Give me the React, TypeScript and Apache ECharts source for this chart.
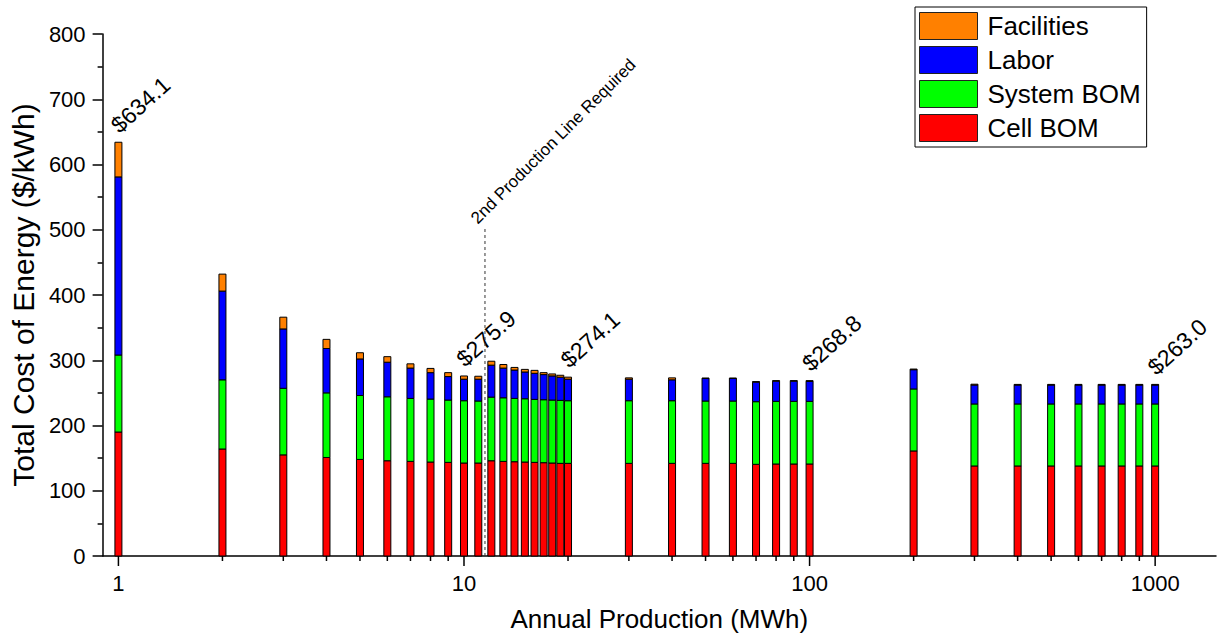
import React, { useEffect, useRef } from "react";
import * as echarts from "echarts";

// ---------- data ----------
const production = [1, 2, 3, 4, 5, 6, 7, 8, 9, 10, 11, 12, 13, 14, 15, 16, 17, 18, 19, 20, 30, 40, 50, 60, 70, 80, 90, 100, 200, 300, 400, 500, 600, 700, 800, 900, 1000];
const cellBOM = [190, 164, 155, 151, 148, 146, 145, 144, 143.5, 142.5, 142.5, 146, 145, 144.5, 144, 143.5, 143, 142.5, 142, 142, 142, 142, 142, 142, 140.5, 141, 141, 141, 161, 138, 138, 138, 138, 138, 138, 138, 138];
const systemBOM = [118, 106, 102, 99, 98, 98, 96.5, 96.5, 95.5, 95.5, 95, 97.5, 97.5, 97, 97, 96.5, 96.5, 96.5, 96.5, 96, 96, 96, 95.5, 95.5, 96, 96, 96, 96, 95, 95, 95, 95, 95, 95, 95, 95, 95];
const labor = [273, 136, 91, 68, 56, 53, 46.5, 40.5, 36, 33, 33.5, 49, 45.5, 43.5, 41, 40, 38.5, 37, 35.5, 33, 33, 32, 34.5, 34.5, 30, 31, 31, 30.5, 29.5, 29, 29, 29, 29, 29, 29, 29, 29];
const facilities = [53.1, 26, 18, 14, 9.5, 8.5, 6.5, 6.5, 6, 4.9, 4.5, 6, 5.5, 4, 4, 4.5, 3, 3, 3, 3.1, 2, 3, 0.8, 0.8, 0.8, 0.8, 0.8, 1.3, 1, 1.3, 1, 1, 1, 1, 1, 1, 1];

const seriesNames = ["Cell BOM", "System BOM", "Labor", "Facilities"];
const legendOrder = ["Facilities", "Labor", "System BOM", "Cell BOM"];

const labelProduction = [1, 10, 20, 100, 1000];
const labelTexts = ["$634.1", "$275.9", "$274.1", "$268.8", "$263.0"];

const secondLineAt = 11.5;
const secondLineTop = 503;
const secondLineText = "2nd Production Line Required";

const majorTicks = [1, 10, 100, 1000];
const minorTicks = [2, 3, 4, 5, 6, 7, 8, 9, 20, 30, 40, 50, 60, 70, 80, 90, 200, 300, 400, 500, 600, 700, 800, 900];

const xTitle = "Annual Production (MWh)";
const yTitle = "Total Cost of Energy ($/kWh)";

// ---------- styles ----------
const COLORS: Record<string, string> = {
  "Cell BOM": "#ff0000",
  "System BOM": "#00ff00",
  Labor: "#0000ff",
  Facilities: "#ff8000",
};
const FONT = "Liberation Sans, Arial, sans-serif";
const BAR_W = 7;

export default function App() {
  const ref = useRef<HTMLDivElement>(null);

  useEffect(() => {
    if (!ref.current) return;
    const chart = echarts.init(ref.current, undefined, { renderer: "svg" });

    const comps = [cellBOM, systemBOM, labor, facilities];
    const stacked: number[][][] = comps.map(() => []);
    production.forEach((x, i) => {
      let base = 0;
      comps.forEach((arr, k) => {
        const top = base + arr[i];
        stacked[k].push([x, base, top]);
        base = top;
      });
    });
    const totals = production.map((_, i) => comps.reduce((s, a) => s + a[i], 0));

    const barRender = (color: string) => (params: any, api: any) => {
      const x = api.value(0);
      const p0 = api.coord([x, api.value(1)]);
      const p1 = api.coord([x, api.value(2)]);
      return {
        type: "rect",
        shape: { x: p0[0] - BAR_W / 2, y: p1[1], width: BAR_W, height: Math.max(p0[1] - p1[1], 0) },
        style: { fill: color, stroke: "#000", lineWidth: 1 },
      };
    };

    const barSeries = seriesNames.map((name, k) => ({
      type: "custom",
      name,
      coordinateSystem: "cartesian2d",
      itemStyle: { color: COLORS[name], borderColor: "#222", borderWidth: 1 },
      encode: { x: 0, y: [1, 2] },
      data: stacked[k],
      renderItem: barRender(COLORS[name]),
      silent: true,
    }));

    const labelSeries = {
      type: "custom",
      name: "totals",
      coordinateSystem: "cartesian2d",
      encode: { x: 0, y: 1 },
      data: labelProduction.map((x) => [x, totals[production.indexOf(x)]]),
      renderItem: (params: any, api: any) => {
        const p = api.coord([api.value(0), api.value(1)]);
        return {
          type: "text",
          x: p[0] - 4,
          y: p[1] - 14,
          rotation: (42 * Math.PI) / 180,
          style: {
            text: labelTexts[params.dataIndex],
            fontSize: 23,
            fontFamily: FONT,
            fill: "#000",
            align: "left",
            verticalAlign: "middle",
          },
        };
      },
      silent: true,
    };

    const lineSeries = {
      type: "custom",
      name: "secondLine",
      coordinateSystem: "cartesian2d",
      encode: { x: 0, y: 1 },
      data: [[secondLineAt, secondLineTop]],
      renderItem: (params: any, api: any) => {
        const x = api.value(0);
        const pTop = api.coord([x, api.value(1)]);
        const pBot = api.coord([x, 0]);
        return {
          type: "group",
          children: [
            {
              type: "line",
              shape: { x1: pBot[0], y1: pBot[1], x2: pTop[0], y2: pTop[1] },
              style: { stroke: "#333", lineWidth: 1, lineDash: [3, 3] },
            },
            {
              type: "text",
              x: pTop[0] - 5,
              y: pTop[1] - 1,
              rotation: Math.PI / 4,
              style: {
                text: secondLineText,
                fontSize: 17,
                fontFamily: FONT,
                fill: "#000",
                align: "left",
                verticalAlign: "bottom",
              },
            },
          ],
        };
      },
      silent: true,
    };

    const tickSeries = {
      type: "custom",
      name: "xticks",
      coordinateSystem: "cartesian2d",
      encode: { x: 0, y: 1 },
      data: [...majorTicks.map((v) => [v, 0, 10]), ...minorTicks.map((v) => [v, 0, 5])],
      renderItem: (params: any, api: any) => {
        const p = api.coord([api.value(0), 0]);
        const len = api.value(2);
        return {
          type: "line",
          shape: { x1: p[0], y1: p[1], x2: p[0], y2: p[1] + len },
          style: { stroke: "#000", lineWidth: 1.5 },
        };
      },
      silent: true,
      z: 5,
    };

    chart.setOption({
      animation: false,
      backgroundColor: "#fff",
      textStyle: { fontFamily: FONT, color: "#000" },
      grid: { left: 98, right: 8, top: 34, bottom: 84, containLabel: false },
      legend: {
        show: true,
        orient: "vertical",
        left: 915,
        top: 7,
        data: legendOrder.map((n) => ({ name: n, icon: "rect" })),
        itemWidth: 58,
        itemHeight: 27,
        itemGap: 6,
        padding: [5, 6, 5, 4],
        borderColor: "#000",
        borderWidth: 1,
        backgroundColor: "#fff",
        itemStyle: { borderColor: "#222", borderWidth: 1 },
        textStyle: { fontSize: 26, fontFamily: FONT, color: "#000", padding: [0, 0, 0, 5] },
        selectedMode: false,
      },
      xAxis: {
        type: "log",
        logBase: 10,
        min: 0.9,
        max: 1500,
        name: xTitle,
        nameLocation: "middle",
        nameGap: 50,
        nameTextStyle: { fontSize: 26, fontFamily: FONT, color: "#000" },
        axisLine: { show: true, lineStyle: { color: "#000", width: 1.5 } },
        axisTick: { show: false },
        minorTick: { show: false },
        splitLine: { show: false },
        axisLabel: {
          fontSize: 22,
          color: "#000",
          margin: 16,
          fontFamily: FONT,
          formatter: (v: number) => {
            const r = Math.round(v * 1000) / 1000;
            return majorTicks.includes(r) ? String(r) : "";
          },
        },
      },
      yAxis: {
        type: "value",
        min: 0,
        max: 800,
        interval: 100,
        name: yTitle,
        nameLocation: "middle",
        nameGap: 57,
        nameTextStyle: { fontSize: 30, fontFamily: FONT, color: "#000" },
        axisLine: { show: true, lineStyle: { color: "#000", width: 1.5 } },
        axisTick: { show: true, inside: false, length: 10, lineStyle: { color: "#000", width: 1.5 } },
        minorTick: { show: true, splitNumber: 2, length: 5, lineStyle: { color: "#000", width: 1.5 } },
        splitLine: { show: false },
        axisLabel: { fontSize: 22, color: "#000", margin: 17, fontFamily: FONT },
      },
      series: [...barSeries, labelSeries, lineSeries, tickSeries],
    });

    return () => chart.dispose();
  }, []);

  return (
    <div
      ref={ref}
      style={{ position: "fixed", left: 0, top: 0, width: 1224, height: 640, background: "#fff" }}
    />
  );
}
